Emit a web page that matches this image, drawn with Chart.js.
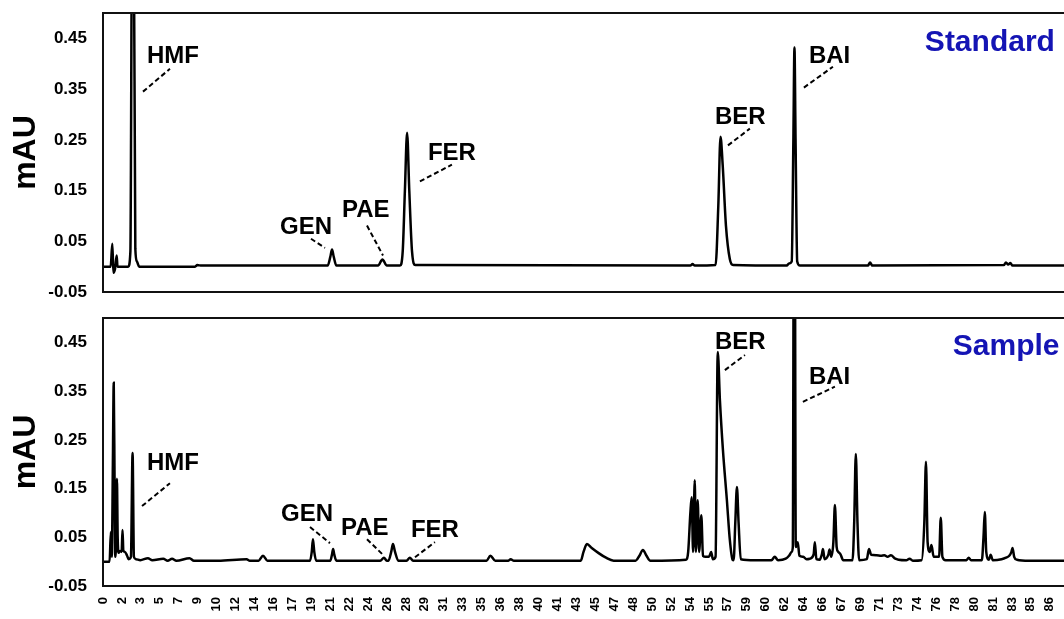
<!DOCTYPE html>
<html>
<head>
<meta charset="utf-8">
<script src="https://cdn.jsdelivr.net/npm/chart.js@4.4.0/dist/chart.umd.min.js"></script>
<style>
    html, body { margin: 0; padding: 0; background: #fff; overflow: hidden; width: 1064px; height: 619px; }
    #top-panel { position: absolute; left: 0; top: 0; width: 1075px; height: 302px; }
    #bottom-panel { position: absolute; left: 0; top: 300px; width: 1075px; height: 319px; }
</style>
</head>
<body>
<div id="top-panel"><canvas id="standard-chart"></canvas></div>
<div id="bottom-panel"><canvas id="sample-chart"></canvas></div>
<script>
// retention time (min) / absorbance (mAU)
const standardPoints = [
    [0, 0], [0.7, 0], [0.85, 0.045], [0.95, -0.012], [1.1, -0.004], [1.25, 0.022], [1.32, 0],
    [2.3, 0], [2.5, 0.03], [2.66, 0.7], [2.8, 0.7], [2.95, 0.035], [3.1, 0.01], [3.3, 0],
    [8.4, 0], [8.6, 0.003], [9.0, 0.002], [14.0, 0.002],
    [20.5, 0.002], [20.75, 0.02], [20.9, 0.034], [21.05, 0.02], [21.3, 0.002],
    [25.1, 0.002], [25.5, 0.014], [25.9, 0.002],
    [27.1, 0.002], [27.35, 0.03], [27.55, 0.15], [27.75, 0.264], [27.95, 0.15], [28.2, 0.03], [28.5, 0.003],
    [53.6, 0.002], [53.8, 0.005], [54.0, 0.002],
    [55.9, 0.003], [56.15, 0.12], [56.35, 0.256], [56.55, 0.2], [56.85, 0.08], [57.2, 0.015], [57.5, 0.003],
    [62.4, 0.002], [62.6, 0.006], [62.85, 0.01], [63.0, 0.25], [63.1, 0.432], [63.2, 0.25], [63.35, 0.01], [63.6, 0.002],
    [69.8, 0.002], [70.0, 0.008], [70.2, 0.002],
    [82.2, 0.003], [82.4, 0.008], [82.6, 0.004], [82.8, 0.007], [83.0, 0.002], [88.7, 0.002]
];

const samplePoints = [
    [0, 0], [0.6, 0], [0.72, 0.061], [0.8, 0.01], [0.9, 0.2], [0.98, 0.367], [1.06, 0.15], [1.12, 0.01],
    [1.2, 0.05], [1.27, 0.17], [1.34, 0.05], [1.42, 0.018], [1.55, 0.022], [1.7, 0.02], [1.78, 0.065],
    [1.86, 0.022], [2.0, 0.02], [2.2, 0.012], [2.35, 0.005], [2.55, 0.01], [2.7, 0.223], [2.82, 0.01],
    [3.0, 0.005], [3.4, 0.003], [4.1, 0.007], [4.5, 0.003], [5.5, 0.006], [5.9, 0.002], [6.3, 0.006],
    [6.7, 0.002], [7.9, 0.007], [8.3, 0.002], [10.5, 0.002], [13.1, 0.005], [13.4, 0.002],
    [14.2, 0.002], [14.6, 0.012], [15.0, 0.002],
    [18.9, 0.002], [19.05, 0.02], [19.16, 0.046], [19.28, 0.02], [19.45, 0.002],
    [20.75, 0.002], [20.9, 0.015], [21.0, 0.026], [21.1, 0.015], [21.3, 0.002],
    [25.3, 0.002], [25.64, 0.008], [25.9, 0.002],
    [26.05, 0.002], [26.3, 0.02], [26.46, 0.036], [26.65, 0.02], [26.95, 0.002],
    [27.7, 0.002], [28.0, 0.008], [28.3, 0.002],
    [35.0, 0.002], [35.35, 0.012], [35.8, 0.002], [37.0, 0.002], [37.2, 0.005], [37.5, 0.002],
    [43.6, 0.002], [43.85, 0.02], [44.16, 0.036], [44.6, 0.028], [45.2, 0.018], [45.9, 0.008], [46.6, 0.002],
    [48.6, 0.002], [48.95, 0.012], [49.27, 0.024], [49.6, 0.012], [49.95, 0.002],
    [53.2, 0.004], [53.4, 0.02], [53.6, 0.1], [53.72, 0.132], [53.85, 0.02], [54.0, 0.167], [54.1, 0.02],
    [54.27, 0.126], [54.4, 0.02], [54.6, 0.095], [54.75, 0.012], [55.0, 0.01], [55.3, 0.01], [55.5, 0.02], [55.65, 0.005],
    [55.9, 0.01], [56.1, 0.43], [56.3, 0.33], [56.57, 0.23], [56.93, 0.127], [57.2, 0.045], [57.45, 0.004],
    [57.55, 0.003], [57.7, 0.08], [57.85, 0.153], [58.0, 0.08], [58.2, 0.005],
    [59.5, 0.003], [61.0, 0.003], [61.3, 0.01], [61.6, 0.003], [62.3, 0.006], [62.6, 0.012], [62.85, 0.02],
    [62.95, 0.03], [63.05, 0.8], [63.12, 0.8], [63.22, 0.03],
    [63.4, 0.04], [63.55, 0.012], [63.9, 0.01], [64.2, 0.005], [64.5, 0.006], [64.85, 0.015], [64.96, 0.04],
    [65.1, 0.005], [65.4, 0.004], [65.6, 0.015], [65.7, 0.026], [65.85, 0.005], [66.2, 0.015], [66.3, 0.025],
    [66.45, 0.01], [66.65, 0.04], [66.79, 0.116], [66.95, 0.03], [67.1, 0.02], [67.3, 0.015], [67.55, 0.003],
    [68.4, 0.003], [68.55, 0.08], [68.7, 0.221], [68.85, 0.08], [69.0, 0.003],
    [69.7, 0.005], [69.9, 0.026], [70.1, 0.014], [70.6, 0.013], [71.0, 0.012], [71.3, 0.013], [71.6, 0.01],
    [71.9, 0.013], [72.3, 0.006], [72.6, 0.004], [73.3, 0.003], [73.6, 0.006], [73.9, 0.002],
    [74.7, 0.003], [74.95, 0.08], [75.1, 0.205], [75.25, 0.04], [75.45, 0.02], [75.6, 0.034], [75.8, 0.01],
    [76.3, 0.01], [76.45, 0.09], [76.6, 0.01], [76.9, 0.003], [78.8, 0.003], [79.0, 0.008], [79.2, 0.003],
    [80.2, 0.003], [80.35, 0.05], [80.47, 0.102], [80.6, 0.02], [80.85, 0.004], [81.0, 0.014], [81.2, 0.003],
    [82.0, 0.005], [82.4, 0.008], [82.7, 0.012], [82.9, 0.02], [83.0, 0.028], [83.15, 0.01], [83.4, 0.004],
    [84.5, 0.002], [88.7, 0.002]
];

const xTickLabels = ["0", "2", "3", "5", "7", "9", "10", "12", "14", "16", "17", "19", "21", "22", "24", "26",
    "28", "29", "31", "33", "35", "36", "38", "40", "41", "43", "45", "47", "48", "50", "52", "54", "55", "57",
    "59", "60", "62", "64", "66", "67", "69", "71", "73", "74", "76", "78", "80", "81", "83", "85", "86"];
const yTickValues = [-0.05, 0.05, 0.15, 0.25, 0.35, 0.45];

// peak names: text anchor + dashed leader, in (min, mAU)
const standardLabels = [
    { text: "HMF", x: 4.01, y: 0.402, from: [3.65, 0.345], to: [6.11, 0.39] },
    { text: "GEN", x: 16.15, y: 0.065, from: [18.98, 0.055], to: [20.26, 0.037] },
    { text: "PAE", x: 21.81, y: 0.097, from: [24.09, 0.081], to: [25.55, 0.022] },
    { text: "FER", x: 29.65, y: 0.211, from: [28.92, 0.168], to: [31.84, 0.201] },
    { text: "BER", x: 55.84, y: 0.282, from: [57.03, 0.239], to: [59.03, 0.272] },
    { text: "BAI", x: 64.42, y: 0.402, from: [63.96, 0.353], to: [66.61, 0.394] }
];
const sampleLabels = [
    { text: "HMF", x: 4.01, y: 0.188, from: [3.56, 0.114], to: [6.11, 0.161] },
    { text: "GEN", x: 16.24, y: 0.083, from: [18.89, 0.071], to: [20.71, 0.038] },
    { text: "PAE", x: 21.72, y: 0.055, from: [24.09, 0.046], to: [25.55, 0.014] },
    { text: "FER", x: 28.1, y: 0.051, from: [28.47, 0.009], to: [30.29, 0.04] },
    { text: "BER", x: 55.84, y: 0.437, from: [56.75, 0.393], to: [58.58, 0.424] },
    { text: "BAI", x: 64.42, y: 0.365, from: [63.87, 0.328], to: [66.79, 0.359] }
];

const TICK_STEP = 1.728;   // minutes between labelled ticks on the original axis
const X_MAX = 88.7;
const FONT = "'Liberation Sans', Arial, sans-serif";

Chart.defaults.font.family = FONT;
Chart.defaults.color = "#000";

const framePlugin = {
    id: "frame",
    afterDatasetsDraw(chart) {
        const { ctx, chartArea } = chart;
        ctx.save();
        ctx.strokeStyle = "#111";
        ctx.lineWidth = 2;
        ctx.strokeRect(chartArea.left, chartArea.top, chartArea.right - chartArea.left, chartArea.bottom - chartArea.top);
        ctx.restore();
    }
};

const peakLabelPlugin = {
    id: "peakLabels",
    afterDatasetsDraw(chart, args, opts) {
        const { ctx } = chart;
        const xs = chart.scales.x;
        const ys = chart.scales.y;
        ctx.save();
        ctx.font = "bold 24px " + FONT;
        ctx.textBaseline = "alphabetic";
        ctx.textAlign = "left";
        opts.items.forEach((item) => {
            ctx.fillStyle = "#000";
            ctx.fillText(item.text, xs.getPixelForValue(item.x), ys.getPixelForValue(item.y));
            ctx.strokeStyle = "#000";
            ctx.lineWidth = 2;
            ctx.setLineDash([5, 3]);
            ctx.beginPath();
            ctx.moveTo(xs.getPixelForValue(item.from[0]), ys.getPixelForValue(item.from[1]));
            ctx.lineTo(xs.getPixelForValue(item.to[0]), ys.getPixelForValue(item.to[1]));
            ctx.stroke();
            ctx.setLineDash([]);
        });
        ctx.font = "bold 30px " + FONT;
        ctx.fillStyle = "#1414b4";
        ctx.fillText(opts.title.text, xs.getPixelForValue(opts.title.x), ys.getPixelForValue(opts.title.y));
        ctx.restore();
    }
};

function makeChart(canvasId, points, labels, title, showXTicks, padding) {
    const ctx = document.getElementById(canvasId).getContext("2d");
    return new Chart(ctx, {
        type: "line",
        data: {
            datasets: [{
                data: points.map(([x, y]) => ({ x: x, y: y })),
                borderColor: "#000",
                borderWidth: 2.5,
                pointRadius: 0,
                cubicInterpolationMode: "monotone",
                fill: false
            }]
        },
        options: {
            responsive: true,
            maintainAspectRatio: false,
            animation: false,
            layout: { padding: padding },
            scales: {
                x: {
                    type: "linear",
                    display: showXTicks,
                    min: 0,
                    max: X_MAX,
                    afterBuildTicks: (scale) => {
                        scale.ticks = xTickLabels.map((t, i) => ({ value: i * TICK_STEP }));
                    },
                    afterFit: (scale) => {
                        if (showXTicks) scale.height = 33;
                        scale.paddingLeft = 0;
                        scale.paddingRight = 0;
                    },
                    grid: { display: false, drawTicks: false },
                    border: { display: false },
                    ticks: {
                        autoSkip: false,
                        maxRotation: 90,
                        minRotation: 90,
                        padding: 11,
                        color: "#000",
                        font: { size: 13, weight: "bold" },
                        callback: (value, index) => xTickLabels[index]
                    }
                },
                y: {
                    min: -0.05,
                    max: 0.5,
                    afterBuildTicks: (scale) => {
                        scale.ticks = yTickValues.map((v) => ({ value: v }));
                    },
                    afterFit: (scale) => {
                        scale.width = 103;
                        scale.paddingTop = 0;
                        scale.paddingBottom = 0;
                    },
                    grid: { display: false, drawTicks: false },
                    border: { display: false },
                    ticks: {
                        padding: 16,
                        color: "#000",
                        font: { size: 17, weight: "bold" },
                        callback: (value) => value.toFixed(2)
                    },
                    title: {
                        display: true,
                        text: "mAU",
                        color: "#000",
                        font: { size: 32, weight: "bold" },
                        padding: { top: 7, bottom: 0 }
                    }
                }
            },
            plugins: {
                legend: { display: false },
                tooltip: { enabled: false },
                peakLabels: { items: labels, title: title }
            }
        },
        plugins: [framePlugin, peakLabelPlugin]
    });
}

makeChart("standard-chart", standardPoints, standardLabels,
    { text: "Standard", x: 75.0, y: 0.426 }, false, { top: 13, bottom: 10, left: 0, right: 0 });
makeChart("sample-chart", samplePoints, sampleLabels,
    { text: "Sample", x: 77.55, y: 0.424 }, true, { top: 18, bottom: 0, left: 0, right: 0 });
</script>
</body>
</html>
